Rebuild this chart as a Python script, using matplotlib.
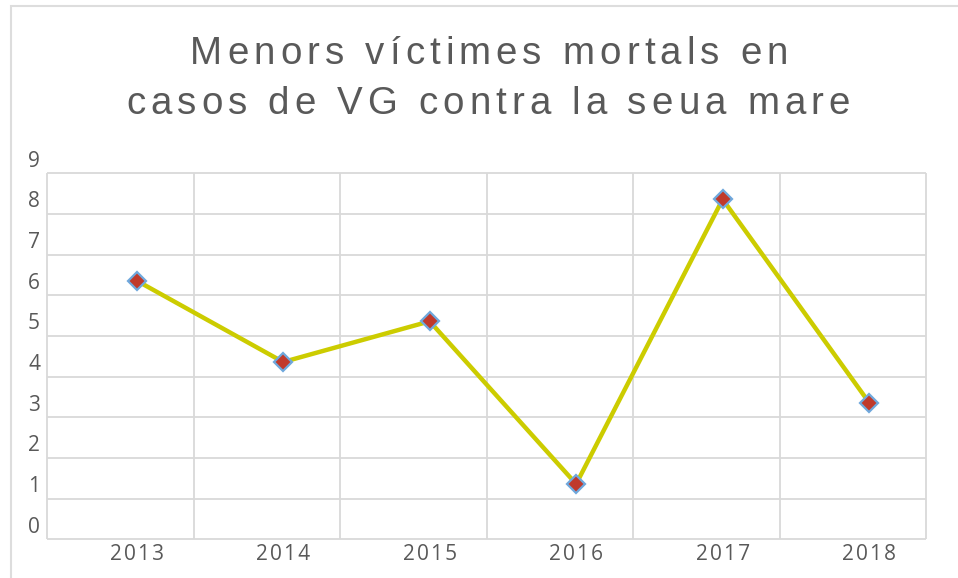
import matplotlib
matplotlib.use("Agg")
import matplotlib.pyplot as plt
from matplotlib.patches import Rectangle
from matplotlib.font_manager import FontProperties
from matplotlib.textpath import text_to_path

years = ["2013", "2014", "2015", "2016", "2017", "2018"]
victims = [6, 4, 5, 1, 8, 3]
y_ticks = list(range(10))
title_lines = ["Menors víctimes mortals en", "casos de VG contra la seua mare"]

W, H = 958, 578
TEXT = "#595959"
GRID = "#D9D9D9"

plt.rcParams['font.family'] = ['Open Sans', 'DejaVu Sans']


def advance(s, fp):
    # width of s measured up to the start of a following glyph
    w1, _, _ = text_to_path.get_text_width_height_descent(s + "x", fp, ismath=False)
    w2, _, _ = text_to_path.get_text_width_height_descent("x", fp, ismath=False)
    return w1 - w2


def tracked_text(fig, s, xc, y_base, size, track, color):
    # draw s centred at xc (pixels) with extra letter spacing, like the
    # spaced-out title of the original
    fp = FontProperties(family=['Liberation Sans', 'DejaVu Sans'], size=size)
    k = fig.dpi / 72.0
    total = advance(s, fp) * k + track * (len(s) - 1)
    x0 = xc - total / 2
    for i, ch in enumerate(s):
        if ch == " ":
            continue
        xp = x0 + advance(s[:i], fp) * k + i * track
        fig.text(xp / W, 1 - y_base / H, ch, fontproperties=fp,
                 color=color, ha='left', va='baseline')


fig = plt.figure(figsize=(W / 100, H / 100), dpi=100)
ax = fig.add_axes([47 / W, 1 - 539.3 / H, (926 - 47) / W, (539.3 - 154.6) / H])
ax.patch.set_visible(False)

x = list(range(len(years)))
ax.plot(x, victims, color='#CCCC00', lw=3.2, marker='D', ms=9.5,
        mfc='#C0392B', mec='#6FA8DC', mew=1.6, zorder=3, clip_on=False)

# the grid in the source sits a bit off the tick positions
x_off, y_off = -0.612, -0.36
ax.set_xlim(x_off, len(years) + x_off)
ax.set_ylim(y_off, 9.1)
ax.vlines([i + x_off for i in range(len(years) + 1)], y_off, y_ticks[-1] + y_off,
          color=GRID, lw=1.3, clip_on=False, zorder=1)
ax.hlines([k + y_off for k in y_ticks], x_off, len(years) + x_off,
          color=GRID, lw=1.3, clip_on=False, zorder=1)

for s in ax.spines.values():
    s.set_visible(False)

ax.set_xticks(x)
ax.set_xticklabels(["\u200a".join(y) for y in years])
ax.set_yticks(y_ticks)
ax.tick_params(length=0, colors=TEXT, labelsize=15)
ax.tick_params(axis='y', pad=5)
ax.tick_params(axis='x', pad=3.5)

tracked_text(fig, title_lines[0], 489, 64.3, 27.7, 5.1, TEXT)
tracked_text(fig, title_lines[1], 488, 114, 27.7, 5.1, TEXT)

# chart area border, cut off at right and bottom like the screenshot
fig.add_artist(Rectangle((10.5 / W, -0.1), 1.2, (H - 6) / H + 0.1,
                         transform=fig.transFigure, fill=False,
                         edgecolor='#DDDDDD', lw=1.5))

fig.savefig('out.png', dpi=100)
